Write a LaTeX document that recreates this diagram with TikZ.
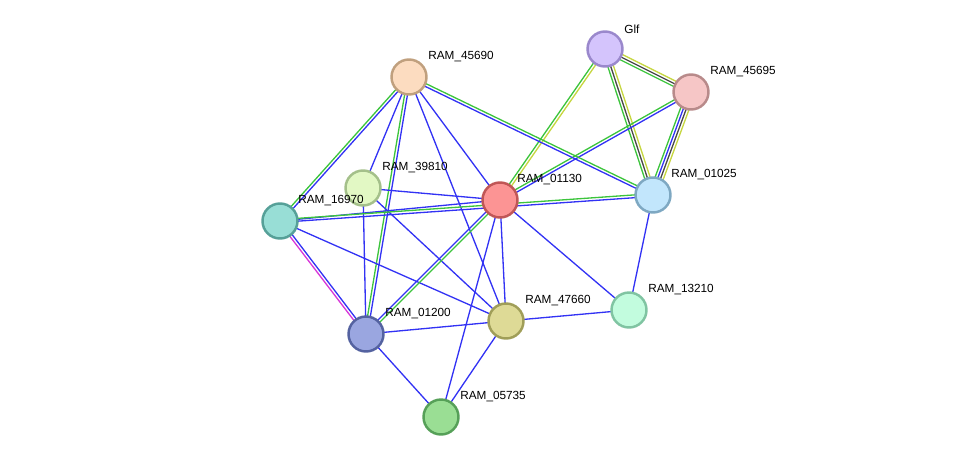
\documentclass[tikz,border=0pt]{standalone}
\usepackage{fontspec}
\setmainfont{Liberation Sans}
\usetikzlibrary{calc,backgrounds}

\definecolor{cblue}{HTML}{3232F4}
\definecolor{cgreen}{HTML}{3CC43C}
\definecolor{cyell}{HTML}{C6D640}
\definecolor{cgray}{HTML}{484848}
\definecolor{cmag}{HTML}{D836D8}

% parallel evidence lines between two proteins
\newcommand{\links}[4]{%
  \foreach \c [count=\i] in {#4} {
    \pgfmathsetmacro{\off}{(\i-(#3+1)/2)*1.6}
    \draw[edge,\c] ($(#1)!\off pt!90:(#2)$) -- ($(#2)!\off pt!-90:(#1)$);
  }}

\begin{document}
\begin{tikzpicture}[x=0.02cm,y=-0.02cm,
  prot/.style={circle,line width=1.4pt,minimum size=0.7cm,inner sep=0pt},
  lbl/.style={anchor=west,font=\fontsize{6.7}{8}\selectfont,inner sep=0pt},
  edge/.style={line width=0.75pt}]
\useasboundingbox (0,0) rectangle (976,463);
% Proteins
\node[prot,fill={rgb,255:red,212;green,196;blue,252},draw={rgb,255:red,154;green,136;blue,204}] (glf) at (605,49) {};
\node[prot,fill={rgb,255:red,246;green,198;blue,198},draw={rgb,255:red,184;green,138;blue,138}] (r45695) at (691,92) {};
\node[prot,fill={rgb,255:red,252;green,220;blue,192},draw={rgb,255:red,192;green,160;blue,126}] (r45690) at (409,77) {};
\node[prot,fill={rgb,255:red,226;green,248;blue,196},draw={rgb,255:red,164;green,192;blue,138}] (r39810) at (363,188) {};
\node[prot,fill={rgb,255:red,252;green,148;blue,148},draw={rgb,255:red,192;green,86;blue,86}] (r01130) at (500,200) {};
\node[prot,fill={rgb,255:red,194;green,230;blue,252},draw={rgb,255:red,126;green,168;blue,194}] (r01025) at (653,195) {};
\node[prot,fill={rgb,255:red,152;green,222;blue,214},draw={rgb,255:red,86;green,160;blue,152}] (r16970) at (280,221) {};
\node[prot,fill={rgb,255:red,194;green,252;blue,222},draw={rgb,255:red,128;green,196;blue,162}] (r13210) at (629,310) {};
\node[prot,fill={rgb,255:red,222;green,218;blue,150},draw={rgb,255:red,160;green,158;blue,88}] (r47660) at (506,321) {};
\node[prot,fill={rgb,255:red,154;green,166;blue,224},draw={rgb,255:red,84;green,98;blue,160}] (r01200) at (366,334) {};
\node[prot,fill={rgb,255:red,154;green,222;blue,148},draw={rgb,255:red,86;green,160;blue,88}] (r05735) at (441,417) {};
% Labels
\node[lbl] (lglf) at ($(glf)+(19,-20)$) {Glf};
\node[lbl] (l45695) at ($(r45695)+(19,-20)$) {RAM\_45695};
\node[lbl] (l45690) at ($(r45690)+(19,-20)$) {RAM\_45690};
\node[lbl] (l39810) at ($(r39810)+(19,-20)$) {RAM\_39810};
\node[lbl] (l01130) at ($(r01130)+(17,-20)$) {RAM\_01130};
\node[lbl] (l01025) at ($(r01025)+(18,-20)$) {RAM\_01025};
\node[lbl] (l16970) at ($(r16970)+(18,-20)$) {RAM\_16970};
\node[lbl] (l13210) at ($(r13210)+(19,-20)$) {RAM\_13210};
\node[lbl] (l47660) at ($(r47660)+(19,-20)$) {RAM\_47660};
\node[lbl] (l01200) at ($(r01200)+(19,-20)$) {RAM\_01200};
\node[lbl] (l05735) at ($(r05735)+(19,-20)$) {RAM\_05735};
% Interactions
\begin{pgfonlayer}{background}
\links{glf}{r45695}{3}{cgreen,cgray,cyell}
\links{glf}{r01025}{3}{cgreen,cgray,cyell}
\links{r45695}{r01025}{4}{cgreen,cblue,cgray,cyell}
\links{r45695}{r01130}{2}{cgreen,cblue}
\links{glf}{r01130}{2}{cgreen,cyell}
\links{r45690}{r01025}{2}{cblue,cgreen}
\links{r45690}{r16970}{2}{cgreen,cblue}
\links{r45690}{r01200}{2}{cgreen,cblue}
\links{r45690}{r39810}{1}{cblue}
\links{r45690}{r01130}{1}{cblue}
\links{r45690}{r47660}{1}{cblue}
\links{r39810}{r01130}{1}{cblue}
\links{r39810}{r01200}{1}{cblue}
\links{r39810}{r47660}{1}{cblue}
\links{r16970}{r01130}{1}{cblue}
\links{r16970}{r01025}{2}{cblue,cgreen}
\links{r16970}{r01200}{2}{cmag,cblue}
\links{r16970}{r47660}{1}{cblue}
\links{r01130}{r01200}{2}{cblue,cgreen}
\links{r01130}{r47660}{1}{cblue}
\links{r01130}{r05735}{1}{cblue}
\links{r01130}{r13210}{1}{cblue}
\links{r01025}{r13210}{1}{cblue}
\links{r47660}{r13210}{1}{cblue}
\links{r01200}{r47660}{1}{cblue}
\links{r01200}{r05735}{1}{cblue}
\links{r47660}{r05735}{1}{cblue}
\end{pgfonlayer}
\end{tikzpicture}
\end{document}
